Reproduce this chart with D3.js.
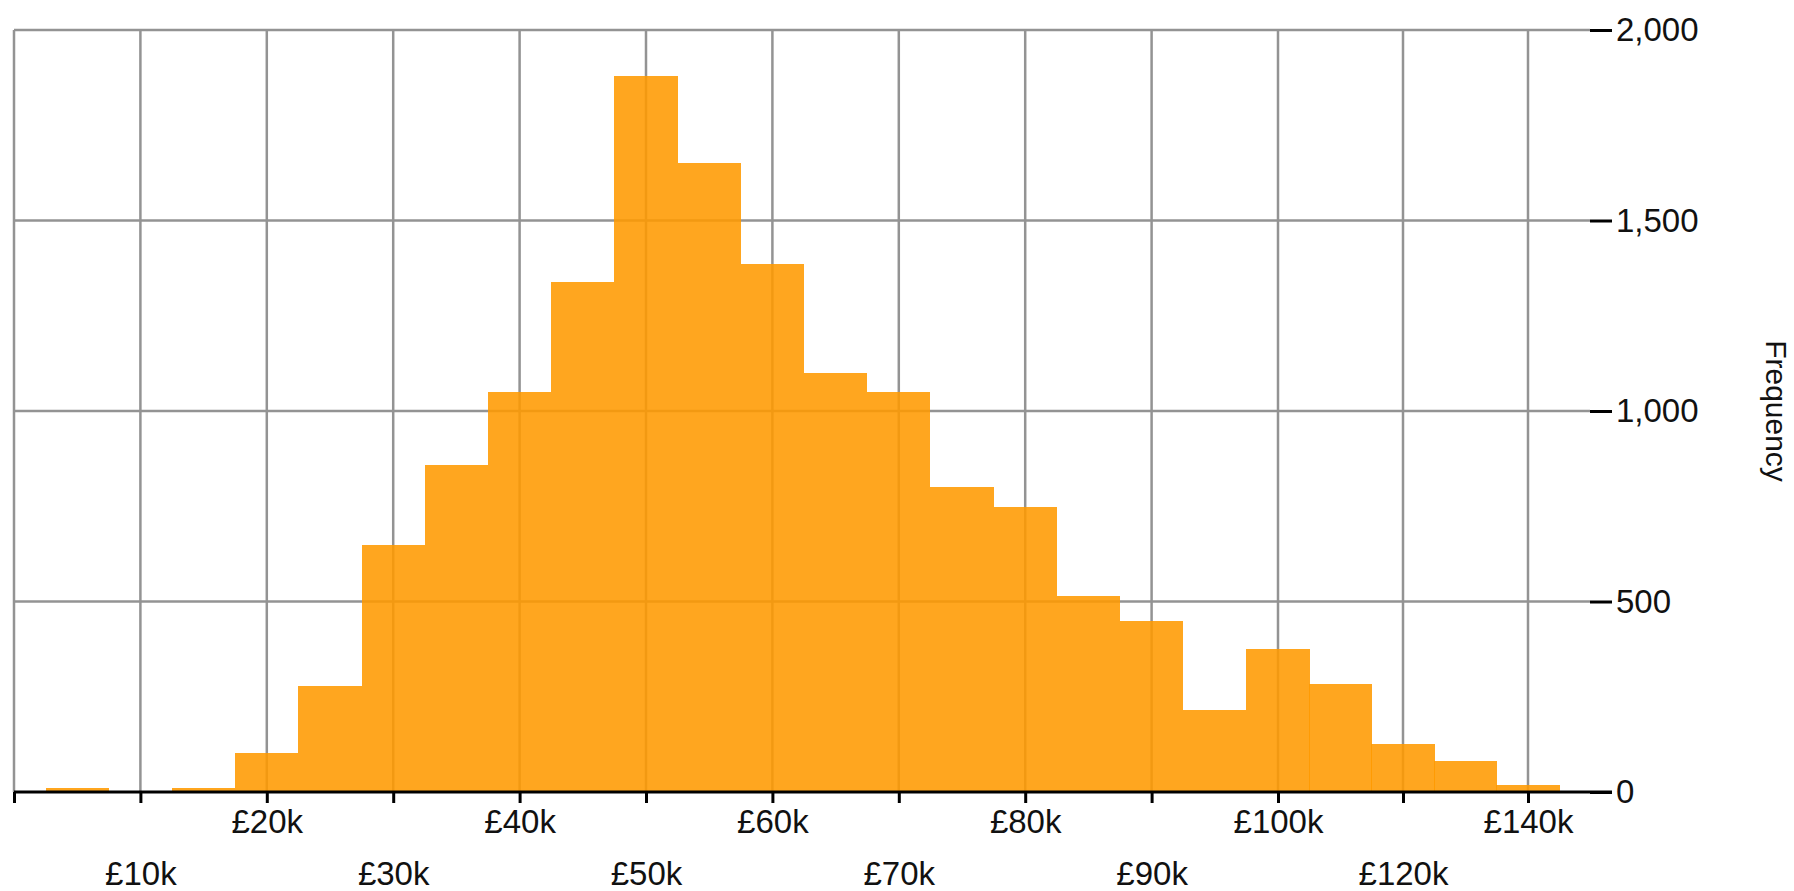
<!DOCTYPE html>
<meta charset="utf-8">

<!-- Load d3.js -->
<script src="https://d3js.org/d3.v7.min.js"></script>

<div id="my_dataviz"></div>

<script>

    // salary bins (bin centre, in £) and the number of jobs in each
    var binCentres = [5000, 15000, 20000, 25000, 30000, 35000, 40000, 45000, 50000, 55000,
                      60000, 65000, 70000, 75000, 80000, 85000, 90000, 95000, 100000,
                      110000, 120000, 130000, 140000];
    var frequency = [10, 10, 102, 277, 649, 857, 1049, 1338, 1880, 1651,
                     1386, 1100, 1049, 800, 749, 514, 448, 214, 376,
                     284, 126, 82, 18];

    // axis ticks and their labels
    var xTicks = [0, 10000, 20000, 30000, 40000, 50000, 60000, 70000, 80000, 90000, 100000, 120000, 140000];
    var xTickLabels = ["", "£10k", "£20k", "£30k", "£40k", "£50k", "£60k", "£70k", "£80k", "£90k", "£100k", "£120k", "£140k"];
    var yTicks = [0, 500, 1000, 1500, 2000];
    var yLabel = "Frequency";

    // dimensions of the page and the plot area
    var width = 1794,
        height = 891;
    var plot = {left: 14, right: 1590, top: 30, bottom: 792};

    var svg = d3.select("#my_dataviz")
        .append("svg")
        .attr("width", width)
        .attr("height", height)
        .style("display", "block")
        .style("background", "#fff");

    // X scale: the axis is squeezed above £100k (one step = £20k there)
    var x = d3.scaleLinear()
        .domain([0, 100000, 140000])
        .range([plot.left, 1278, 1528]);

    // Y scale
    var y = d3.scaleLinear()
        .domain([0, 2000])
        .range([plot.bottom, plot.top]);

    // vertical grid lines
    svg.append("g")
        .selectAll("line")
        .data(xTicks)
        .enter()
        .append("line")
        .attr("x1", function(d) { return x(d); })
        .attr("x2", function(d) { return x(d); })
        .attr("y1", plot.top)
        .attr("y2", plot.bottom)
        .attr("stroke", "#939393")
        .attr("stroke-width", 2.5);

    // horizontal grid lines
    svg.append("g")
        .selectAll("line")
        .data(yTicks.slice(1))
        .enter()
        .append("line")
        .attr("x1", plot.left)
        .attr("x2", plot.right)
        .attr("y1", function(d) { return y(d); })
        .attr("y2", function(d) { return y(d); })
        .attr("stroke", "#939393")
        .attr("stroke-width", 2.5);

    // bars: each one is half a tick step wide, centred on its bin
    var barWidth = (x(10000) - x(0)) / 2;
    svg.append("g")
        .attr("shape-rendering", "crispEdges")
        .selectAll("rect")
        .data(binCentres)
        .enter()
        .append("rect")
        .attr("x", function(d) { return Math.round(x(d) - barWidth / 2); })
        .attr("y", function(d, i) { return y(frequency[i]); })
        .attr("width", function(d) { return Math.round(x(d) + barWidth / 2) - Math.round(x(d) - barWidth / 2); })
        .attr("height", function(d, i) { return y(0) - y(frequency[i]); })
        .attr("fill", "#ff9a00")
        .attr("fill-opacity", 0.88);

    // X axis, labels alternate between two rows
    var xAxis = svg.append("g")
        .attr("transform", "translate(0," + plot.bottom + ")")
        .call(d3.axisBottom(x)
            .tickValues(xTicks)
            .tickSize(11)
            .tickFormat(function(d, i) { return xTickLabels[i]; }));
    xAxis.select(".domain").remove();
    xAxis.selectAll(".tick line")
        .attr("stroke", "#000")
        .attr("stroke-width", 3);
    xAxis.selectAll(".tick text")
        .attr("dy", null)
        .attr("y", function(d, i) { return i % 2 === 0 ? 41 : 93; })
        .attr("fill", "#111")
        .style("font-family", "'Liberation Sans', Arial, sans-serif")
        .style("font-size", "33px");

    // base line, runs under the y ticks too
    svg.append("line")
        .attr("x1", plot.left)
        .attr("x2", 1612)
        .attr("y1", y(0))
        .attr("y2", y(0))
        .attr("stroke", "#000")
        .attr("stroke-width", 3);

    // Y axis on the right
    var yAxis = svg.append("g")
        .attr("transform", "translate(" + plot.right + ",0)")
        .call(d3.axisRight(y)
            .tickValues(yTicks)
            .tickSize(22)
            .tickPadding(4)
            .tickFormat(d3.format(",")));
    yAxis.select(".domain").remove();
    yAxis.selectAll(".tick line")
        .attr("stroke", "#000")
        .attr("stroke-width", 3);
    yAxis.selectAll(".tick text")
        .attr("fill", "#111")
        .style("font-family", "'Liberation Sans', Arial, sans-serif")
        .style("font-size", "33px");

    // Y axis title, turned to read downwards
    svg.append("text")
        .attr("transform", "translate(1766," + (plot.top + plot.bottom) / 2 + ") rotate(90)")
        .attr("text-anchor", "middle")
        .attr("fill", "#111")
        .style("font-family", "'Liberation Sans', Arial, sans-serif")
        .style("font-size", "30px")
        .text(yLabel);

</script>

<style>
    body {
        margin: 0;
        background: #fff;
    }
</style>
